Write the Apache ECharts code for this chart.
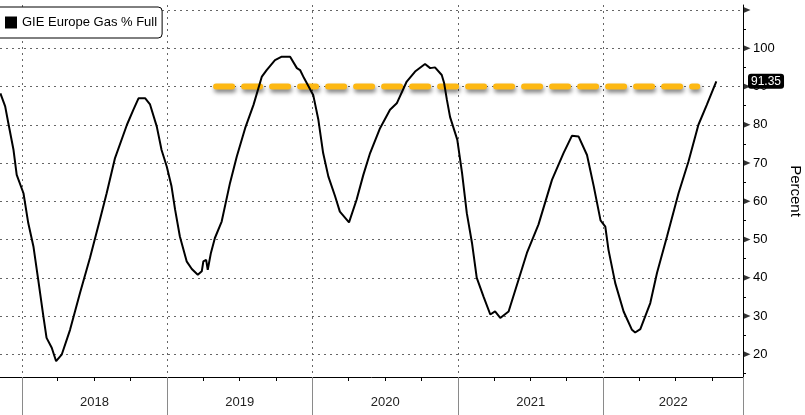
<!DOCTYPE html>
<html><head><meta charset="utf-8">
<script src="https://cdn.jsdelivr.net/npm/echarts@6/dist/echarts.min.js"></script>
<style>html,body{margin:0;padding:0;background:#fff}#c{width:805px;height:415px}</style>
</head><body><div id="c"></div>
<script>
const seriesName = 'GIE Europe Gas % Full';
const dates = [
'2017-11-08','2017-11-20','2017-11-28','2017-12-11','2017-12-19',
'2018-01-05','2018-01-17','2018-01-30','2018-02-11','2018-02-24','2018-03-04','2018-03-17','2018-03-28','2018-04-11','2018-05-02','2018-05-27','2018-06-21','2018-07-16','2018-08-02','2018-08-23','2018-09-22','2018-10-08','2018-10-21','2018-11-07','2018-11-19','2018-12-06','2018-12-18','2018-12-31',
'2019-01-12','2019-01-21','2019-02-02','2019-02-19','2019-03-04','2019-03-19','2019-03-29','2019-04-02','2019-04-09','2019-04-13','2019-04-21','2019-05-01','2019-05-18','2019-06-08','2019-06-25','2019-07-16','2019-08-06','2019-08-27','2019-09-08','2019-09-29','2019-10-16','2019-11-06','2019-11-23','2019-12-01','2019-12-11',
'2020-01-03','2020-01-16','2020-01-28','2020-02-10','2020-02-27','2020-03-10','2020-04-02','2020-04-21','2020-05-08','2020-05-25','2020-06-19','2020-07-14','2020-07-31','2020-08-25','2020-09-15','2020-10-10','2020-10-23','2020-11-04','2020-11-21','2020-11-27','2020-12-04','2020-12-12','2020-12-30',
'2021-01-11','2021-01-23','2021-02-05','2021-02-17','2021-03-06','2021-03-23','2021-04-04','2021-04-17','2021-05-08','2021-06-02','2021-06-23','2021-07-22','2021-08-25','2021-09-23','2021-10-14','2021-10-31','2021-11-21','2021-12-08','2021-12-25',
'2022-01-06','2022-01-14','2022-01-31','2022-02-21','2022-03-14','2022-03-22','2022-04-04','2022-04-29','2022-05-16','2022-06-10','2022-07-09','2022-08-03','2022-08-28','2022-09-18','2022-10-12'
];
const values = [
88.2,84.8,80.4,73.4,66.9,
62.1,54.3,48.2,39.5,29.9,24.3,21.7,18.2,19.9,26.4,36.0,45.2,55.2,62.1,71.3,80.0,83.9,86.9,86.9,85.3,79.5,73.4,69.1,
63.9,57.8,50.8,44.3,42.3,40.8,41.7,44.3,44.7,42.1,46.5,50.4,54.7,64.8,71.7,79.1,85.2,92.6,94.3,96.9,97.8,97.8,94.8,94.3,92.2,
87.8,81.3,72.6,66.5,61.3,57.3,54.5,60.4,66.9,72.6,79.1,83.9,85.6,91.3,93.9,95.9,94.8,95.0,93.0,90.9,86.5,82.0,76.1,
67.4,56.9,49.1,40.0,35.1,30.4,31.2,29.5,31.2,39.5,46.5,53.9,65.6,72.6,77.1,76.9,72.1,63.9,55.0,
53.4,47.3,38.6,31.2,26.4,25.7,26.6,33.4,41.3,50.8,62.1,70.4,80.0,85.2,91.35
];
const refLevel = 90;
const refStart = '2019-05-04';
const refEnd = '2022-08-25';
const axisMin = '2017-11-07';
const axisMax = '2022-12-18';
const yearLabels = ['2018','2019','2020','2021','2022'];
const yTicks = [20,30,40,50,60,70,80,90,100,110];
const yLabels = [20,30,40,50,60,70,80,90,100];
const yMinorTicks = [15,25,35,45,55,65,75,85,95,105];
const yMin = 14.07, yMax = 111.3;

const FONT = 'Liberation Sans';
const P = s => Date.parse(s + 'T00:00:00Z');
const yearStarts = yearLabels.map(y => P(y + '-01-01'));
const minT = P(axisMin), maxT = P(axisMax);
const separators = yearStarts.concat([maxT]);
const labelPos = yearStarts.map((t, i) => (t + Math.min(i + 1 < yearStarts.length ? yearStarts[i + 1] : maxT, maxT)) / 2);
const quarters = [];
yearLabels.forEach(y => ['01','04','07','10'].forEach(m => quarters.push(P(y + '-' + m + '-01'))));

const chart = echarts.init(document.getElementById('c'));
chart.setOption({
  animation: false,
  backgroundColor: '#fff',
  grid: { left: 0, right: 62, top: 5, bottom: 38, containLabel: false, outerBoundsMode: 'none' },
  legend: {
    left: -5, top: 7, data: [seriesName], icon: 'rect', itemWidth: 12, itemHeight: 12,
    textStyle: { fontSize: 13, color: '#000', fontFamily: FONT },
    borderColor: '#000', borderWidth: 1, borderRadius: 4, padding: [9, 5, 9, 10],
    backgroundColor: '#fff'
  },
  xAxis: [
    {
      type: 'value', min: minT, max: maxT,
      axisLine: { show: true, onZero: false, lineStyle: { color: '#000', width: 1 } },
      axisTick: { show: true, customValues: quarters, length: 4, lineStyle: { color: '#000' } },
      axisLabel: {
        customValues: labelPos, margin: 19, fontSize: 13, color: '#222', fontFamily: FONT,
        formatter: v => yearLabels[labelPos.findIndex(p => Math.abs(p - v) < 864e5 * 2)]
      },
      splitLine: { show: false }
    },
    {
      type: 'value', min: minT, max: maxT, position: 'bottom',
      axisLine: { show: false, onZero: false },
      axisTick: { show: true, customValues: separators, length: 38, lineStyle: { color: '#8a8a8a' } },
      axisLabel: { show: false },
      splitLine: { show: true, lineStyle: { color: '#666', type: [2, 4], width: 1 } }
    }
  ],
  yAxis: [
    {
      type: 'value', position: 'right', min: yMin, max: yMax,
      axisLine: { show: true, lineStyle: { color: '#000', width: 1 } },
      axisTick: { show: false, customValues: yTicks },
      axisLabel: { customValues: yLabels, margin: 10, color: '#000', fontSize: 13, fontFamily: FONT },
      splitLine: { show: true, lineStyle: { color: '#666', type: [2, 4], width: 1 } },
      name: 'Percent', nameLocation: 'middle', nameRotate: -90, nameGap: 45,
      nameTextStyle: { fontSize: 15, color: '#000', fontFamily: FONT },
      axisPointer: {
        show: true, type: 'line', value: values[values.length - 1], status: 'show',
        triggerTooltip: false, lineStyle: { opacity: 0 },
        label: { show: true, precision: 2, backgroundColor: '#000', color: '#fff', fontSize: 12,
                 fontFamily: FONT, padding: [2, 3, 1, 3], margin: 5 }
      }
    },
    {
      type: 'value', position: 'right', min: yMin, max: yMax,
      axisLine: { show: false },
      axisTick: { show: true, customValues: yMinorTicks, length: 3, lineStyle: { color: '#000' } },
      axisLabel: { show: false },
      splitLine: { show: false }
    }
  ],
  series: [
    {
      name: 'ref', type: 'line', xAxisIndex: 0, yAxisIndex: 0, silent: true, symbol: 'none', z: 2,
      data: [[P(refStart), refLevel], [P(refEnd), refLevel]],
      lineStyle: { color: '#FDB813', width: 6, type: [16, 12], cap: 'round',
                   shadowColor: 'rgba(0,0,0,0.5)', shadowBlur: 4, shadowOffsetY: 3, shadowOffsetX: 1 }
    },
    {
      name: seriesName, type: 'line', xAxisIndex: 0, yAxisIndex: 0, symbol: 'none', z: 3,
      data: dates.map((d, i) => [P(d), values[i]]),
      itemStyle: { color: '#000' },
      lineStyle: { color: '#000', width: 2 }
    },
    {
      name: 'ticks', type: 'scatter', xAxisIndex: 0, yAxisIndex: 0, silent: true, clip: false, z: 5,
      symbol: 'path://M0,0 L10,5 L0,10 Z', symbolSize: [7, 6], symbolOffset: [4, 0],
      itemStyle: { color: '#000' },
      data: yTicks.map(v => [maxT, v])
    }
  ]
});
</script></body></html>
